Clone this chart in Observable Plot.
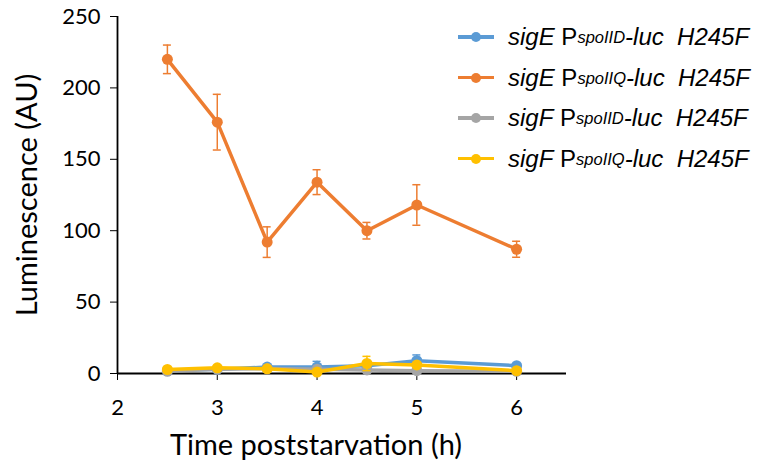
<!DOCTYPE html>
<html>
<head>
<meta charset="utf-8">
<script src="https://cdn.jsdelivr.net/npm/d3@7"></script>
<script src="https://cdn.jsdelivr.net/npm/@observablehq/plot@0.6"></script>
<style>
  body { margin: 0; background: #fff; }
  #wrap { position: relative; width: 759px; height: 463px; }
  #legend { position: absolute; left: 458px; top: 17px; font-family: "Liberation Sans", Arial, sans-serif; font-size: 24px; color: #000; }
  .row { height: 40.5px; display: flex; align-items: center; white-space: nowrap; }
  .sw { position: relative; width: 36px; height: 20px; margin-right: 14px; }
  .sw .ln { position: absolute; left: 0; right: 0; top: 8px; height: 3.5px; }
  .sw .pt { position: absolute; left: 13px; top: 5px; width: 10px; height: 10px; border-radius: 50%; }
  .it { font-style: italic; }
  sub { font-size: 16.5px; font-style: italic; vertical-align: -6px; line-height: 0; }
</style>
</head>
<body>
<div id="wrap"></div>
<script>
const times = [2.5, 3, 3.5, 4, 4.5, 5, 6];
const seriesNames = ["sigE PspoIID-luc H245F", "sigE PspoIIQ-luc H245F", "sigF PspoIID-luc H245F", "sigF PspoIIQ-luc H245F"];
const seriesColors = ["#5B9BD5", "#ED7D31", "#A5A5A5", "#FFC000"];
const sigE_IID = [2, 3, 4.5, 4.5, 5.5, 9, 5.5];
const sigE_IID_err = [0.5, 0.5, 1, 4, 1, 4, 1];
const sigE_IIQ = [220, 176, 92, 134, 100, 118, 87];
const sigE_IIQ_err = [10, 19.5, 10.7, 8.7, 5.8, 14.2, 5.6];
const sigF_IID = [1.5, 3, 3.5, 3, 2.5, 2, 1.5];
const sigF_IID_err = [0.5, 0.5, 0.5, 1, 1, 1, 0.5];
const sigF_IIQ = [2.8, 4, 3.3, 1, 7, 6, 2];
const sigF_IIQ_err = [0.5, 1, 0.5, 0.5, 5, 1, 0.5];
const yTicks = [0, 50, 100, 150, 200, 250];
const xTicks = [2, 3, 4, 5, 6];
const xLabel = "Time poststarvation (h)";
const yLabel = "Luminescence (AU)";

const values = [sigE_IID, sigE_IIQ, sigF_IID, sigF_IIQ];
const errs = [sigE_IID_err, sigE_IIQ_err, sigF_IID_err, sigF_IIQ_err];
const data = [];
values.forEach((vals, s) => vals.forEach((v, i) => data.push({
  series: seriesNames[s], t: times[i], v, lo: v - errs[s][i], hi: v + errs[s][i],
  c1: times[i] - 0.04, c2: times[i] + 0.04
})));

const color = { domain: seriesNames, range: seriesColors };
const marks = [];
seriesNames.forEach(name => {
  const d = data.filter(r => r.series === name);
  marks.push(
    Plot.ruleX(d, { x: "t", y1: "lo", y2: "hi", stroke: "series", strokeWidth: 1.5 }),
    Plot.ruleY(d, { y: "hi", x1: "c1", x2: "c2", stroke: "series", strokeWidth: 1.5 }),
    Plot.ruleY(d, { y: "lo", x1: "c1", x2: "c2", stroke: "series", strokeWidth: 1.5 }),
    Plot.line(d, { x: "t", y: "v", stroke: "series", strokeWidth: 3.5 }),
    Plot.dot(d, { x: "t", y: "v", fill: "series", r: 5.5 })
  );
});

const chart = Plot.plot({
  width: 759, height: 463,
  marginLeft: 117, marginRight: 193, marginTop: 16, marginBottom: 90,
  style: { fontFamily: "Lato, sans-serif", fontSize: "22px", color: "#000", background: "#fff" },
  x: { domain: [2, 6.5], ticks: xTicks, tickFormat: "d", tickSize: 7, tickPadding: 19, label: null },
  y: { domain: [0, 250], ticks: yTicks, tickSize: 7, tickPadding: 10, label: null },
  color,
  marks: [
    Plot.ruleY([0], { strokeWidth: 1.8 }),
    Plot.ruleX([2], { y1: 0, y2: 250, strokeWidth: 1.8 }),
    ...marks,
    Plot.text([xLabel], { text: d => d, frameAnchor: "bottom", textAnchor: "middle", lineAnchor: "bottom", dx: -26, dy: 81, fontSize: 29, fill: "#000" }),
    Plot.text([yLabel], { text: d => d, frameAnchor: "left", textAnchor: "middle", lineAnchor: "middle", dx: -90, rotate: -90, fontSize: 29, fill: "#000" })
  ]
});
document.getElementById("wrap").appendChild(chart);

const legend = document.createElement("div");
legend.id = "legend";
const labels = [
  ["sigE", "spoIID"], ["sigE", "spoIIQ"], ["sigF", "spoIID"], ["sigF", "spoIIQ"]
];
labels.forEach((l, i) => {
  const row = document.createElement("div");
  row.className = "row";
  row.innerHTML = `<div class="sw"><div class="ln" style="background:${seriesColors[i]}"></div><div class="pt" style="background:${seriesColors[i]}"></div></div>` +
    `<span class="it">${l[0]}</span>&nbsp;P<sub>${l[1]}</sub><span class="it">-luc&nbsp; H245F</span>`;
  legend.appendChild(row);
});
document.getElementById("wrap").appendChild(legend);
</script>
</body>
</html>
